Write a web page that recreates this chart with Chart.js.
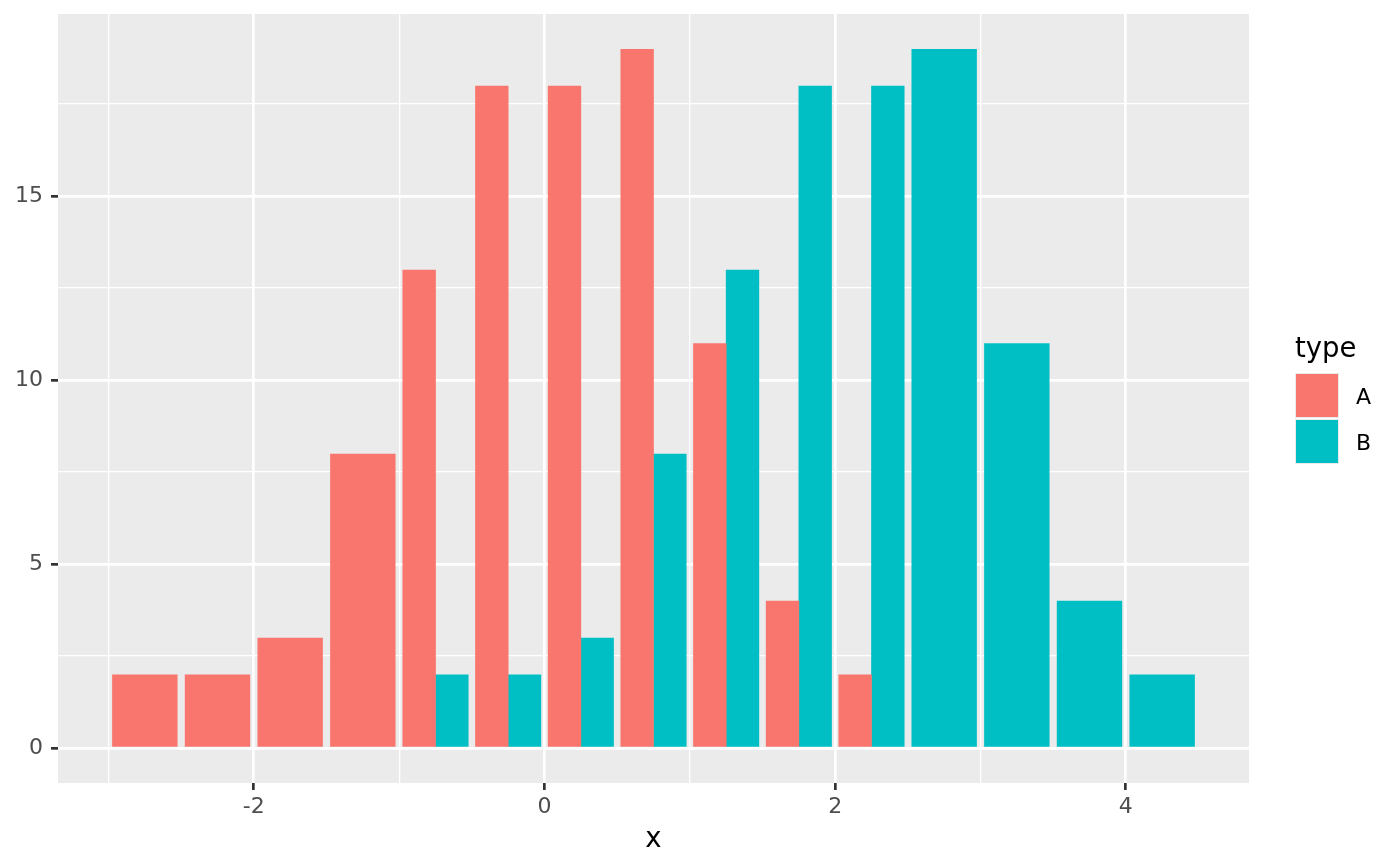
<!DOCTYPE html>
<html>
<head>
<meta charset="utf-8">
<script src="https://cdn.jsdelivr.net/npm/chart.js@4/dist/chart.umd.min.js"></script>
<style>
  body { margin: 0; background: #fff; }
  #wrap { position: relative; width: 1400px; height: 866px; font-family: "DejaVu Sans", sans-serif; }
  #legend-title { position: absolute; left: 1295px; top: 330px; font-size: 27.5px; color: #000; line-height: 34px; }
  .key { position: absolute; left: 1295px; width: 44px; height: 45px; background: #ebebeb; }
  .key span { position: absolute; left: 1px; top: 1px; width: 42px; height: 43px; }
  .lab { position: absolute; left: 1356px; font-size: 22px; color: #000; line-height: 26px; }
</style>
</head>
<body>
<div id="wrap">
  <canvas id="c" width="1400" height="866"></canvas>
  <div id="legend-title">type</div>
  <div class="key" style="top:373px"><span style="background:#F8766D"></span></div>
  <div class="key" style="top:419px"><span style="background:#00BFC4"></span></div>
  <div class="lab" style="top:384px">A</div>
  <div class="lab" style="top:430px">B</div>
</div>
<script>
// histogram bins (centres, width 0.5) and counts per type
const binCenters = [-2.75, -2.25, -1.75, -1.25, -0.75, -0.25, 0.25, 0.75, 1.25, 1.75, 2.25, 2.75, 3.25, 3.75, 4.25];
const countA = [2, 2, 3, 8, 13, 18, 18, 19, 11, 4, 2, 0, 0, 0, 0];
const countB = [0, 0, 0, 0, 2, 2, 3, 8, 13, 18, 18, 19, 11, 4, 2];
const binWidth = 0.5;

const xTicks = [-3, -2, -1, 0, 1, 2, 3, 4];
const xTickLabels = ['', '-2', '', '0', '', '2', '', '4'];
const yTicks = [0, 2.5, 5, 7.5, 10, 12.5, 15, 17.5];
const yTickLabels = ['0', '', '5', '', '10', '', '15', ''];

const colA = '#F8766D';
const colB = '#00BFC4';

// dodge: a bin with both types is split in two halves, otherwise full width
const half = binWidth * 0.9 / 4;
const aFull = [], aHalf = [], bFull = [], bHalf = [];
binCenters.forEach((c, i) => {
    const a = countA[i], b = countB[i];
    if (a > 0 && b > 0) {
        aHalf.push({ x: c - half, y: a });
        bHalf.push({ x: c + half, y: b });
    } else if (a > 0) {
        aFull.push({ x: c, y: a });
    } else if (b > 0) {
        bFull.push({ x: c, y: b });
    }
});

function bars(data, color, pct) {
    return {
        data: data, backgroundColor: color, borderWidth: 0,
        grouped: false, categoryPercentage: pct, barPercentage: 1
    };
}

const panelBg = {
    id: 'panelBg',
    beforeDraw(chart) {
        const a = chart.chartArea, ctx = chart.ctx;
        ctx.save();
        ctx.fillStyle = '#ebebeb';
        ctx.fillRect(a.left, a.top, a.right - a.left, a.bottom - a.top);
        ctx.restore();
    }
};

const tickFont = { family: 'DejaVu Sans', size: 22 };

new Chart(document.getElementById('c'), {
    type: 'bar',
    data: {
        datasets: [
            bars(aFull, colA, 2), bars(aHalf, colA, 1.02),
            bars(bHalf, colB, 1.02), bars(bFull, colB, 2)
        ]
    },
    options: {
        responsive: false,
        animation: false,
        layout: { padding: { left: 0, top: 14, right: 151, bottom: 0 } },
        plugins: { legend: { display: false }, tooltip: { enabled: false } },
        scales: {
            x: {
                type: 'linear', min: -3.3475, max: 4.8475, offset: false,
                afterBuildTicks: ax => { ax.ticks = xTicks.map(v => ({ value: v })); },
                afterFit: ax => { ax.height = 83; ax.paddingLeft = 0; ax.paddingRight = 0; },
                border: { display: false },
                grid: {
                    offset: false,
                    color: '#ffffff',
                    lineWidth: ctx => (ctx.tick && ctx.tick.value % 2 === 0) ? 2.7 : 1.3,
                    tickColor: ctx => (ctx.tick && ctx.tick.value % 2 === 0) ? '#333333' : 'rgba(0,0,0,0)',
                    tickWidth: 2.7, tickLength: 7
                },
                ticks: {
                    autoSkip: false, maxRotation: 0, padding: 4,
                    color: '#4d4d4d', font: tickFont,
                    callback: (v, i) => xTickLabels[i]
                },
                title: {
                    display: true, text: 'x', color: '#000',
                    font: { family: 'DejaVu Sans', size: 27.5 },
                    padding: { top: 0, bottom: 10 }
                }
            },
            y: {
                type: 'linear', min: -0.95, max: 19.95,
                afterBuildTicks: ax => { ax.ticks = yTicks.map(v => ({ value: v })); },
                afterFit: ax => { ax.width = 58; ax.paddingTop = 0; ax.paddingBottom = 0; },
                border: { display: false },
                grid: {
                    color: '#ffffff',
                    lineWidth: ctx => (ctx.tick && ctx.tick.value % 5 === 0) ? 2.7 : 1.3,
                    tickColor: ctx => (ctx.tick && ctx.tick.value % 5 === 0) ? '#333333' : 'rgba(0,0,0,0)',
                    tickWidth: 2.7, tickLength: 7
                },
                ticks: {
                    autoSkip: false, padding: 8,
                    color: '#4d4d4d', font: tickFont,
                    callback: (v, i) => yTickLabels[i]
                }
            }
        }
    },
    plugins: [panelBg]
});
</script>
</body>
</html>
